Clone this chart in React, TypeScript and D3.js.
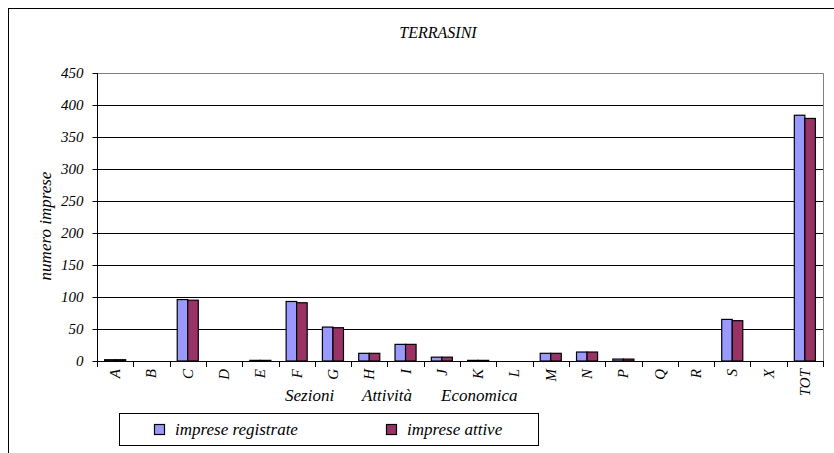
import React, { useRef, useEffect } from "react";
import * as d3 from "d3";

const categories = ["A", "B", "C", "D", "E", "F", "G", "H", "I", "J", "K", "L", "M", "N", "P", "Q", "R", "S", "X", "TOT"];
const registrate = [2, 0, 96, 0, 1, 93, 53, 12, 26, 6, 1, 0, 12, 14, 3, 0, 0, 65, 0, 384];
const attive = [2, 0, 95, 0, 1, 91, 52, 12, 26, 6, 1, 0, 12, 14, 3, 0, 0, 63, 0, 379];
const seriesNames = ["imprese registrate", "imprese attive"];
const seriesColors = ["#9999FF", "#993366"];
const yTicks = [0, 50, 100, 150, 200, 250, 300, 350, 400, 450];

const W = 834;
const H = 453;
const FONT = "\"Liberation Serif\", \"DejaVu Serif\", \"Noto Serif\", \"Nimbus Roman\", FreeSerif, Times, serif";

const App: React.FC = () => {
    const svgRef = useRef<SVGSVGElement | null>(null);

    useEffect(() => {
        if (!svgRef.current) return;
        const svg = d3.select(svgRef.current);
        svg.selectAll("*").remove();

        const left = 97, right = 823, top = 73, bottom = 361;

        const x = d3.scaleBand<string>().domain(categories).range([left, right]).padding(0);
        const inner = d3.scaleBand<number>()
            .domain([0, 1])
            .range([x.bandwidth() * 0.21, x.bandwidth() * 0.79]);
        const y = d3.scaleLinear().domain([0, 450]).range([bottom, top]);

        const txt = (sel: any, size: number) =>
            sel.style("font-family", FONT).style("font-style", "italic").style("font-size", `${size}px`);

        // outer frame (runs off the page, like the source)
        svg.append("rect")
            .attr("x", 8.5).attr("y", 8.5)
            .attr("width", W + 20).attr("height", H + 20)
            .attr("fill", "none").attr("stroke", "#000");

        // title
        txt(svg.append("text")
            .attr("x", 438).attr("y", 38)
            .attr("text-anchor", "middle"), 16)
            .text("TERRASINI");

        // gridlines
        svg.append("g")
            .selectAll("line")
            .data(yTicks.filter(t => t > 0 && t < 450))
            .enter()
            .append("line")
            .attr("x1", left).attr("x2", right)
            .attr("y1", d => Math.round(y(d)) + 0.5)
            .attr("y2", d => Math.round(y(d)) + 0.5)
            .attr("stroke", "#000");

        // plot border top / right
        svg.append("path")
            .attr("d", `M${left},${top + 0.5}H${right + 0.5}V${bottom}`)
            .attr("fill", "none").attr("stroke", "#808080");

        // bars
        const series = [registrate, attive];
        series.forEach((vals, si) => {
            svg.append("g")
                .selectAll("rect")
                .data(categories.map((c, i) => ({ c, v: vals[i] })))
                .enter()
                .append("rect")
                .attr("x", d => (x(d.c) as number) + (inner(si) as number))
                .attr("y", d => y(d.v))
                .attr("width", inner.bandwidth())
                .attr("height", d => bottom - y(d.v))
                .attr("fill", seriesColors[si])
                .attr("stroke", "#000")
                .attr("stroke-width", 1.2);
        });

        // y axis
        const yAxis = svg.append("g").attr("transform", `translate(${left + 0.5},0)`);
        yAxis.append("line").attr("y1", top).attr("y2", bottom + 5).attr("stroke", "#000");
        yAxis.selectAll("line.tick")
            .data(yTicks)
            .enter()
            .append("line")
            .attr("class", "tick")
            .attr("x1", -5).attr("x2", 0)
            .attr("y1", d => Math.round(y(d)) + 0.5)
            .attr("y2", d => Math.round(y(d)) + 0.5)
            .attr("stroke", "#000");
        txt(yAxis.selectAll("text")
            .data(yTicks)
            .enter()
            .append("text")
            .attr("x", -14)
            .attr("y", d => y(d) + 5)
            .attr("text-anchor", "end"), 15)
            .text(d => d);

        // x axis
        const xAxis = svg.append("g");
        xAxis.append("line")
            .attr("x1", left).attr("x2", right + 0.5)
            .attr("y1", bottom + 0.5).attr("y2", bottom + 0.5)
            .attr("stroke", "#000");
        const bounds = categories.map(c => x(c) as number).concat([right]);
        xAxis.selectAll("line.tick")
            .data(bounds)
            .enter()
            .append("line")
            .attr("class", "tick")
            .attr("x1", d => Math.round(d) + 0.5).attr("x2", d => Math.round(d) + 0.5)
            .attr("y1", bottom).attr("y2", bottom + 6)
            .attr("stroke", "#000");
        txt(xAxis.selectAll("text")
            .data(categories)
            .enter()
            .append("text")
            .attr("transform", d => `translate(${(x(d) as number) + x.bandwidth() / 2 + 5},${bottom + 8}) rotate(-90)`)
            .attr("text-anchor", "end"), 15)
            .text(d => d);

        // x axis title
        const xt = txt(svg.append("text").attr("y", 401), 17);
        xt.append("tspan").attr("x", 285).text("Sezioni");
        xt.append("tspan").attr("x", 362).text("Attività");
        xt.append("tspan").attr("x", 441).text("Economica");

        // y axis title
        txt(svg.append("text")
            .attr("transform", "translate(51,226) rotate(-90)")
            .attr("text-anchor", "middle"), 17)
            .text("numero imprese");

        // legend
        const lg = svg.append("g");
        lg.append("rect")
            .attr("x", 119.5).attr("y", 413.5)
            .attr("width", 419).attr("height", 32)
            .attr("fill", "#fff").attr("stroke", "#000");
        const legendX = [154, 386];
        seriesNames.forEach((name, i) => {
            lg.append("rect")
                .attr("x", legendX[i] + 0.5).attr("y", 424.5)
                .attr("width", 10).attr("height", 10)
                .attr("fill", seriesColors[i]).attr("stroke", "#000").attr("stroke-width", 1.2);
            txt(lg.append("text")
                .attr("x", legendX[i] + 21).attr("y", 435), 17)
                .text(name);
        });
    }, []);

    return (
        <svg
            ref={svgRef}
            width={W}
            height={H}
            style={{ position: "absolute", left: 0, top: 0, background: "#fff" }}
        />
    );
};

export default App;
